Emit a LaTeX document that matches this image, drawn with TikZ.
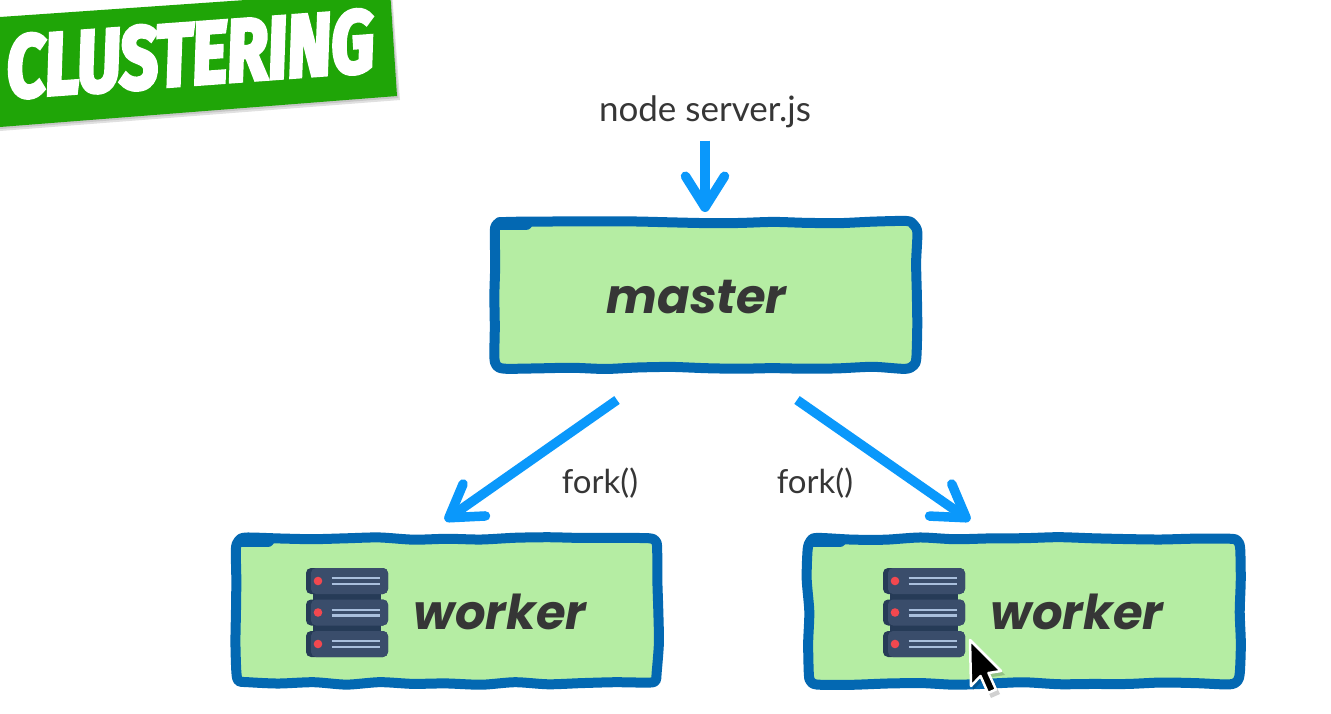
\documentclass[tikz,border=0pt]{standalone}
\usepackage{fontspec}
\usepackage{graphicx}
\setmainfont{Lato}
\newfontfamily\labelfont{Poppins}
\newfontfamily\bannerfont{Fira Sans}
\usetikzlibrary{arrows.meta,calc}
\definecolor{boxfill}{HTML}{B5EDA3}
\definecolor{boxline}{HTML}{0368B2}
\definecolor{arrowblue}{HTML}{0A98FB}
\definecolor{inktext}{HTML}{363636}
\definecolor{bannergreen}{HTML}{1FA507}
\definecolor{srvbody}{HTML}{3A4D6B}
\definecolor{srvdark}{HTML}{263B57}
\definecolor{srvline}{HTML}{A9BFDD}
\definecolor{srvdot}{HTML}{F2484F}
\newcommand\addpt[2]{\pgfmathsetmacro\px{#1+1.4*rand}\pgfmathsetmacro\py{#2+1.4*rand}\xdef\wlist{\wlist(\px,\py)}}
\newcommand\wobbleoutline[3]{%
  \pgfmathsetmacro\wW{#2/2}\pgfmathsetmacro\wH{#3/2}
  \gdef\wlist{}
  \pgfmathsetmacro\nh{int(#2/34)}\pgfmathsetmacro\nv{int(#3/34)}
  \pgfmathsetmacro\dx{(#2-20)/\nh}\pgfmathsetmacro\dy{(#3-20)/\nv}
  \foreach \i in {0,...,\nh}{\pgfmathsetmacro\q{-\wW+10+\i*\dx}\addpt{\q}{-\wH}}
  \xdef\wlist{\wlist(\wW-2.5,-\wH+2.5)}
  \foreach \i in {0,...,\nv}{\pgfmathsetmacro\q{-\wH+10+\i*\dy}\addpt{\wW}{\q}}
  \xdef\wlist{\wlist(\wW-2.5,\wH-2.5)}
  \foreach \i in {0,...,\nh}{\pgfmathsetmacro\q{\wW-10-\i*\dx}\addpt{\q}{\wH}}
  \xdef\wlist{\wlist(-\wW+2.5,\wH-2.5)}
  \foreach \i in {0,...,\nv}{\pgfmathsetmacro\q{\wH-10-\i*\dy}\addpt{-\wW}{\q}}
  \xdef\wlist{\wlist(-\wW+2.5,-\wH+2.5)}
  \begin{scope}[shift={(#1.center)}]
    \draw[boxline,line width=10pt,line join=round] plot[smooth cycle,tension=.45] coordinates {\wlist};
    \draw[boxline,line width=13pt,line cap=round] (-\wW+6,-\wH+1.5) -- (-\wW+32,-\wH+1.5);
  \end{scope}}
\tikzset{
  x=1pt,y=-1pt,
  greenbox/.style={fill=boxfill,line width=10pt,inner sep=0pt,rounded corners=7pt},
  flowarrow/.style={draw=arrowblue,line width=9.5pt,
    -{Straight Barb[length=31pt,width=39pt,line width=9.5pt,round]}},
  boxlabel/.style={anchor=base,font=\labelfont\bfseries\itshape\fontsize{48}{48}\selectfont,text=inktext,inner sep=0pt},
  plainlabel/.style={anchor=base,font=\fontsize{35}{35}\selectfont,text=inktext,inner sep=0pt},
  fork label/.style={anchor=base,font=\fontsize{33}{33}\selectfont,text=inktext,inner sep=0pt},
  servericon/.pic={
    \foreach \yy in {0,31.5,63}{
      \ifdim\yy pt<60pt
        \fill[srvdark] (7,22+\yy) rectangle (75,36+\yy);
      \fi
      \fill[srvdark,rounded corners=5pt] (0,0+\yy) rectangle (82,26+\yy);
      \fill[srvbody,rounded corners=5pt] (5,0+\yy) rectangle (82,26+\yy);
      \fill[srvdot] (12,13+\yy) circle (4.3pt);
      \draw[srvline,line width=2.2pt] (25.5,10.2+\yy) -- (74,10.2+\yy);
      \draw[srvline,line width=2.2pt] (25.5,16+\yy) -- (74,16+\yy);
    }
  }
}
\begin{document}
\begin{tikzpicture}
\useasboundingbox (0,0) rectangle (1331,714);
\fill[white] (0,0) rectangle (1331,714);
% banner
\fill[black!12] (0,21) -- (392,-8) -- (400,100) -- (0,131) -- cycle;
\fill[black!22] (0,19) -- (391,-8) -- (398.5,98) -- (0,129) -- cycle;
\fill[bannergreen] (0,17) -- (390,-10) -- (397,96) -- (0,127) -- cycle;
\node[rotate=4.2,text=white,inner sep=0pt] (bannertext) at (190,54)
  {\resizebox{368pt}{62pt}{\special{pdf:code 2 Tr 0.5 w 1 1 1 RG}\bannerfont\bfseries\itshape CLUSTERING\special{pdf:code 0 Tr}}};
% boxes
\pgfmathsetseed{11}
\node[greenbox,minimum width=422pt,minimum height=146pt] (master) at (705,295) {};
\node[greenbox,minimum width=422pt,minimum height=145pt] (workerA) at (447,611) {};
\node[greenbox,minimum width=432pt,minimum height=145pt] (workerB) at (1024,611) {};
\wobbleoutline{master}{422}{146}
\wobbleoutline{workerA}{422}{145}
\wobbleoutline{workerB}{432}{145}
% labels
\node[boxlabel] (masterlabel) at (696.5,313) {master};
\node[boxlabel] (workerlabelA) at (500,629) {worker};
\node[boxlabel] (workerlabelB) at (1077,629) {worker};
\node[plainlabel] (cmd) at (705,122) {node server.js};
\node[fork label] (forkA) at (600,493) {fork()};
\node[fork label] (forkB) at (815,493) {fork()};
% icons
\pic at (306,568) {servericon};
\pic at (883,568) {servericon};
% arrows
\draw[flowarrow] ([yshift=-12pt]cmd.south) -- ([yshift=5pt]master.north);
\draw[flowarrow] ([xshift=-88pt,yshift=-27pt]master.south) -- ([xshift=-2pt,yshift=13pt]workerA.north);
\draw[flowarrow] ([xshift=92pt,yshift=-27pt]master.south) -- ([xshift=-54pt,yshift=13pt]workerB.north);
% cursor
\fill[black,opacity=.18] (972,642) -- (973,690) -- (983,680) -- (991,698) -- (1000,694) -- (992,677) -- (1005,675) -- cycle;
\draw[white,line width=2.5pt,fill=black,line join=round] (970,640) -- (971,686) -- (980.5,676) -- (988,693) -- (996,689.5) -- (988.5,673) -- (1001,671) -- cycle;
\end{tikzpicture}
\end{document}
